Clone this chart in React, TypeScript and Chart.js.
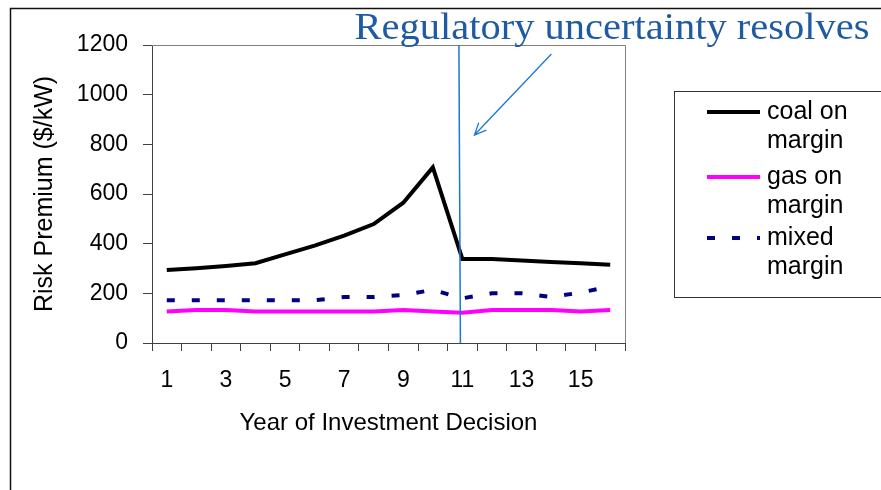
import React, { useEffect, useRef } from 'react';
import { Chart, registerables } from 'chart.js';

Chart.register(...registerables);

// ---- data ----
const years = ['1', '2', '3', '4', '5', '6', '7', '8', '9', '10', '11', '12', '13', '14', '15', '16'];
const coalOnMargin = [294, 301, 310, 321, 357, 392, 432, 479, 565, 707, 338, 338, 332, 326, 321, 315];
const gasOnMargin = [127, 133, 133, 127, 127, 127, 127, 127, 133, 127, 122, 133, 133, 133, 127, 133];
const mixedMargin = [172, 172, 172, 172, 172, 172, 185, 185, 193, 214, 180, 200, 200, 185, 203, 228];
const yMin = 0;
const yMax = 1200;
const yStep = 200;
const seriesNames = ['coal on margin', 'gas on margin', 'mixed margin'];
const legendLines = [['coal on', 'margin'], ['gas on', 'margin'], ['mixed', 'margin']];
const annotationText = 'Regulatory uncertainty resolves';
const resolveYear = '11';
const yTitle = 'Risk Premium ($/kW)';
const xTitle = 'Year of Investment Decision';

const SANS = '"Liberation Sans", Arial, sans-serif';
const SERIF = '"Liberation Serif", "Times New Roman", serif';

const overlayPlugin = {
  id: 'overlay',
  beforeDraw(chart: any) {
    const { ctx, width, height } = chart;
    ctx.save();
    ctx.fillStyle = '#ffffff';
    ctx.fillRect(0, 0, width, height);
    ctx.restore();
  },
  afterDraw(chart: any) {
    const { ctx, chartArea: a, scales } = chart;
    const x = scales.x;
    ctx.save();

    // plot area border (top & right, gray)
    ctx.strokeStyle = '#808080';
    ctx.lineWidth = 1;
    ctx.beginPath();
    ctx.moveTo(a.left, a.top + 0.5);
    ctx.lineTo(a.right + 0.5, a.top + 0.5);
    ctx.lineTo(a.right + 0.5, a.bottom);
    ctx.stroke();

    // vertical line where regulatory uncertainty resolves
    const lx = x.getPixelForValue(years.indexOf(resolveYear)) - 2;
    ctx.strokeStyle = '#1C78D2';
    ctx.lineWidth = 1.5;
    ctx.beginPath();
    ctx.moveTo(lx - 1.5, a.top);
    ctx.lineTo(lx, a.bottom);
    ctx.stroke();

    // arrow
    const ex = lx + 14, ey = a.top + 90;
    const sx = lx + 91, sy = a.top + 9;
    ctx.lineWidth = 1.3;
    ctx.beginPath();
    ctx.moveTo(sx, sy);
    ctx.lineTo(ex, ey);
    const ang = Math.atan2(sy - ey, sx - ex);
    const hl = 13, spread = 0.42;
    ctx.moveTo(ex + hl * Math.cos(ang + spread), ey + hl * Math.sin(ang + spread));
    ctx.lineTo(ex, ey);
    ctx.lineTo(ex + hl * Math.cos(ang - spread), ey + hl * Math.sin(ang - spread));
    ctx.stroke();

    // annotation title (serif, blue, stretched horizontally)
    ctx.font = `37px ${SERIF}`;
    const w = ctx.measureText(annotationText).width;
    const targetW = 515;
    ctx.save();
    ctx.translate(612, 39);
    ctx.scale(targetW / w, 1);
    ctx.fillStyle = '#1F5BA3';
    ctx.textAlign = 'center';
    ctx.textBaseline = 'alphabetic';
    ctx.fillText(annotationText, 0, 0);
    ctx.restore();

    // legend box
    const bx = 674, by = 91, bw = 230, bh = 206;
    ctx.strokeStyle = '#333333';
    ctx.lineWidth = 1;
    ctx.strokeRect(bx + 0.5, by + 0.5, bw, bh);
    const rows = [by + 21, by + 86, by + 147];
    chart.data.datasets.forEach((ds: any, i: number) => {
      const ry = rows[i];
      ctx.save();
      ctx.strokeStyle = ds.borderColor;
      ctx.lineWidth = 4;
      ctx.lineCap = 'butt';
      ctx.setLineDash(ds.borderDash || []);
      ctx.beginPath();
      ctx.moveTo(bx + 33, ry);
      ctx.lineTo(bx + 86, ry);
      ctx.stroke();
      ctx.restore();
      ctx.fillStyle = '#000000';
      ctx.font = `25px ${SANS}`;
      ctx.textAlign = 'left';
      ctx.textBaseline = 'middle';
      legendLines[i].forEach((t, k) => {
        ctx.fillText(t, bx + 93, ry + k * 29);
      });
    });

    // outer frame
    ctx.strokeStyle = '#111111';
    ctx.lineWidth = 1.5;
    ctx.beginPath();
    ctx.moveTo(10.5, chart.height + 2);
    ctx.lineTo(10.5, 8.5);
    ctx.lineTo(chart.width + 2, 8.5);
    ctx.stroke();

    ctx.restore();
  },
};

export default function App() {
  const ref = useRef<HTMLCanvasElement | null>(null);

  useEffect(() => {
    if (!ref.current) return;
    const chart = new Chart(ref.current, {
      type: 'line',
      data: {
        labels: years,
        datasets: [
          {
            label: seriesNames[0],
            data: coalOnMargin,
            borderColor: '#000000',
            borderWidth: 4,
            pointRadius: 0,
            tension: 0,
            fill: false,
          },
          {
            label: seriesNames[1],
            data: gasOnMargin,
            borderColor: '#FF00FF',
            borderWidth: 4,
            pointRadius: 0,
            tension: 0,
            fill: false,
          },
          {
            label: seriesNames[2],
            data: mixedMargin,
            borderColor: '#000080',
            borderWidth: 4,
            borderDash: [8, 17],
            borderCapStyle: 'butt',
            pointRadius: 0,
            tension: 0,
            fill: false,
          },
        ],
      },
      options: {
        responsive: false,
        animation: false,
        devicePixelRatio: 1,
        layout: { padding: { top: 45, right: 256, left: 0, bottom: 0 } },
        plugins: {
          legend: { display: false },
          tooltip: { enabled: false },
          title: { display: false },
        },
        scales: {
          x: {
            type: 'category',
            offset: true,
            grid: {
              offset: true,
              drawOnChartArea: false,
              drawTicks: true,
              tickLength: 8,
              color: '#404040',
            },
            border: { color: '#404040', width: 1 },
            ticks: {
              autoSkip: false,
              maxRotation: 0,
              minRotation: 0,
              padding: 16,
              color: '#000000',
              font: { family: SANS, size: 23 },
              callback: (_v: any, i: number) => (i % 2 === 0 ? years[i] : ''),
            },
            title: {
              display: true,
              text: xTitle,
              color: '#000000',
              font: { family: SANS, size: 24 },
              padding: { top: 0, bottom: 52 },
            },
            afterFit: (s: any) => {
              s.height = 147;
            },
          },
          y: {
            min: yMin,
            max: yMax,
            ticks: {
              stepSize: yStep,
              padding: 15,
              color: '#000000',
              font: { family: SANS, size: 23 },
              callback: (v: any) => String(v),
            },
            grid: {
              drawOnChartArea: false,
              drawTicks: true,
              tickLength: 9,
              color: '#404040',
            },
            border: { color: '#404040', width: 1 },
            title: {
              display: true,
              text: yTitle,
              color: '#000000',
              font: { family: SANS, size: 25 },
              padding: { top: 30, bottom: 0 },
            },
            afterFit: (s: any) => {
              s.width = 152;
            },
          },
        },
      } as any,
      plugins: [overlayPlugin],
    });
    return () => chart.destroy();
  }, []);

  return (
    <div style={{ position: 'fixed', left: 0, top: 0, width: 881, height: 490, background: '#fff' }}>
      <canvas ref={ref} width={881} height={490} style={{ display: 'block' }} />
    </div>
  );
}
